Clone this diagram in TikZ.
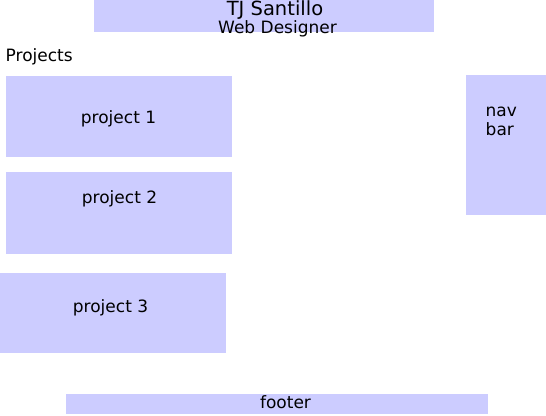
\documentclass[tikz,border=0pt]{standalone}
\usepackage{fontspec}
\setmainfont{DejaVu Sans}
\definecolor{boxblue}{HTML}{CCCCFF}
\begin{document}
\begin{tikzpicture}[x=1pt,y=-1pt,
  blk/.style={fill=boxblue,draw=none},
  lbl/.style={inner sep=0pt,anchor=base,font=\fontsize{17}{20}\selectfont},
  lblw/.style={lbl,anchor=base west}]
\useasboundingbox (0,0) rectangle (546,415);
\fill[blk] (94,0) rectangle (434,32.3) coordinate (hdr);
\fill[blk] (6,76) rectangle (231.7,157.3);
\fill[blk] (6,172.3) rectangle (231.7,254);
\fill[blk] (0,272.7) rectangle (226,353.3);
\fill[blk] (466,75) rectangle (546,215);
\fill[blk] (66,394.3) rectangle (488.3,414.3);
\node[lbl,font=\fontsize{19.5}{22}\selectfont] (title) at (275,15) {TJ Santillo};
\node[lbl] (sub) at (277.5,33.5) {Web Designer};
\node[lblw] (proj) at (5.5,61.5) {Projects};
\node[lbl] (p1) at (118.5,123.3) {project 1};
\node[lbl] (p2) at (119.5,203.3) {project 2};
\node[lbl] (p3) at (110.5,312.3) {project 3};
\node[lblw] (nav) at (485.5,116.7) {nav};
\node[lblw] (bar) at (485.5,135.7) {bar};
\node[lbl] (foot) at (285.5,408.3) {footer};
\end{tikzpicture}
\end{document}
